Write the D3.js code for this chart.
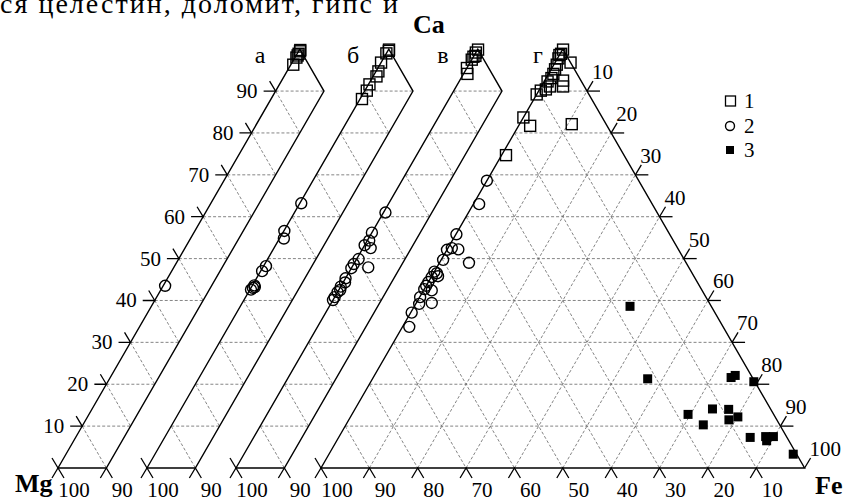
<!DOCTYPE html>
<html>
<head>
<meta charset="utf-8">
<script src="https://cdn.jsdelivr.net/npm/d3@7"></script>
<style>
  body { margin: 0; background: #fff; }
  svg { display: block; }
  text { font-family: "Liberation Serif", "Times New Roman", serif; fill: #000; }
</style>
</head>
<body>
<div id="chart"></div>
<script>
// points are [Ca, Fe] in %, Mg = 100 - Ca - Fe
var panels = ["а", "б", "в", "г"];

var squaresA = [[96.3, 0.5], [98.0, 0.3], [98.5, 0.3], [98.9, 0.3], [99.5, 0.3], [99.8, 0.2]];
var squaresB = [[99.9, 0.1], [99.6, 0.2], [99.0, 0], [96.8, 0], [94.7, 0.5], [93.5, 0.7], [91.6, 0.2], [90.1, 0.4], [88.1, 0.4]];
var squaresV = [[99.9, 0.1], [99.2, 0], [98.4, 0.3], [98.2, 0], [97.5, 0], [95.5, 0], [94.1, 0.8]];
var squaresG = [[99.9, 0.1], [98.6, 0], [98.9, 0.2], [96.8, 3.2], [97.8, 0.2], [96.3, 0.6], [95.2, 0.8], [94.1, 1.0],
                [93.1, 1.1], [92.3, 0.7], [92.5, 3.8], [91.1, 4.5], [91.1, 1.8], [90.4, 1.3], [90.1, 0.4], [89.2, 0],
                [83.7, 0], [81.7, 2.4], [82.1, 10.8], [74.7, 0.9]];

var circlesA = [[43.5, 0.4]];
var circlesB = [[63.2, 0.3], [56.6, 0.1], [54.8, 0.9], [48.2, 0.5], [47.0, 0.3], [43.6, 0.4], [43.0, 0.4], [42.6, 0.2], [43.2, 0.7]];
var circlesV = [[61.0, 0.4], [56.2, 0], [54.3, 0.4], [53.2, 0], [52.5, 1.6], [49.9, 0.4], [48.7, 0], [47.9, 3.4],
                [47.7, 0], [45.3, 0], [44.3, 0.4], [43.3, 0], [42.5, 0.3], [42.0, 0], [40.8, 0], [40.1, 0]];
var circlesG = [[68.6, 0], [63.0, 1.2], [55.8, 0.1], [52.2, 2.3], [52.1, 0], [52.5, 0.8], [49.0, 6.1], [49.7, 0.4],
                [46.9, 0], [46.5, 0.7], [45.6, 0.1], [45.8, 1.3], [44.4, 0], [43.5, 0], [42.7, 0], [42.4, 1.7],
                [40.8, 0.1], [39.4, 3.2], [39.2, 0.7], [37.1, 0.2], [33.7, 1.4]];

var solidG = [[38.6, 44.6], [21.3, 56.9], [21.6, 74.0], [22.1, 74.6], [20.6, 79.2], [12.8, 69.5], [14.1, 73.9],
              [10.3, 73.9], [14.0, 77.3], [11.5, 78.6], [12.2, 80.1], [7.3, 85.1], [7.5, 88.2], [7.5, 89.8],
              [6.5, 88.9], [3.3, 96.0]];

var leftTicks = [10, 20, 30, 40, 50, 60, 70, 80, 90];
var stripBottomTicks = [100, 90];
var mainBottomTicks = [100, 90, 80, 70, 60, 50, 40, 30, 20, 10];
var rightTicks = [10, 20, 30, 40, 50, 60, 70, 80, 90, 100];
var legendLabels = ["1", "2", "3"];
var headerText = "ся целестин, доломит, гипс и";

function init() {
    var w = 845, h = 502;
    var L = 483.6;
    var base = 468;
    var stripX = [58, 147, 236, 321];
    var letterPos = [[260, 63], [353, 63], [443, 63], [538, 63]];

    var svg = d3.select("#chart").append("svg")
        .attr("width", w)
        .attr("height", h);

    // along-base scale and Ca height scale
    var xs = d3.scaleLinear().domain([0, 100]).range([0, L]);
    var ys = d3.scaleLinear().domain([0, 100]).range([base, base - L * Math.sqrt(3) / 2]);

    function pt(x0, ca, fe) {
        return [x0 + xs(fe + ca / 2), ys(ca)];
    }

    var line = d3.line();

    var sqSets = [squaresA, squaresB, squaresV, squaresG];
    var ciSets = [circlesA, circlesB, circlesV, circlesG];

    panels.forEach(function (name, i) {
        var x0 = stripX[i];
        var full = (i === 3);
        var g = svg.append("g");

        // grid
        var segs = [];
        for (var k = 10; k <= 90; k += 10) {
            if (full) {
                segs.push([pt(x0, k, 0), pt(x0, k, 100 - k)]);       // Ca
                segs.push([pt(x0, 0, k), pt(x0, 100 - k, k)]);       // Fe
                segs.push([pt(x0, 100 - k, 0), pt(x0, 0, 100 - k)]); // Mg
            } else {
                segs.push([pt(x0, k, 0), pt(x0, k, Math.min(10, 100 - k))]);
                segs.push([pt(x0, 100 - k, 0), pt(x0, 90 - k, 10)]);
            }
        }
        g.selectAll("path.grid")
            .data(segs)
            .enter()
            .append("path")
            .attr("class", "grid")
            .attr("d", line)
            .attr("fill", "none")
            .attr("stroke", "#666")
            .attr("stroke-width", 0.8)
            .attr("stroke-dasharray", "3,2");

        // outline
        var outline = full
            ? [pt(x0, 0, 0), pt(x0, 100, 0), pt(x0, 0, 100)]
            : [pt(x0, 0, 0), pt(x0, 100, 0), pt(x0, 90, 10), pt(x0, 0, 10)];
        g.append("path")
            .attr("d", line(outline) + "Z")
            .attr("fill", "none")
            .attr("stroke", "#000")
            .attr("stroke-width", 1.4);

        // bottom ticks (Mg %)
        var bt = full ? mainBottomTicks : stripBottomTicks;
        var tickPaths = [];
        bt.forEach(function (m) {
            var p = pt(x0, 0, 100 - m);
            tickPaths.push([[p[0] - 6, p[1] + 10], p, [p[0] + 6, p[1] + 10]]);
        });
        var v = pt(x0, 0, 0);
        tickPaths.push([v, [v[0] - 6, v[1] - 10]]);
        if (i === 0) {
            leftTicks.forEach(function (c) {
                var p = pt(x0, c, 0);
                tickPaths.push([[p[0] - 12, p[1]], p, [p[0] - 6, p[1] - 10]]);
            });
        }
        if (full) {
            rightTicks.forEach(function (f) {
                var p = pt(x0, 100 - f, f);
                if (f < 100) tickPaths.push([[p[0] + 13, p[1]], p]);
                tickPaths.push([p, [p[0] + 6, p[1] - 10]]);
            });
        }
        g.selectAll("path.tick")
            .data(tickPaths)
            .enter()
            .append("path")
            .attr("class", "tick")
            .attr("d", line)
            .attr("fill", "none")
            .attr("stroke", "#000")
            .attr("stroke-width", 1.3);

        g.selectAll("text.bl")
            .data(bt)
            .enter()
            .append("text")
            .attr("class", "bl")
            .attr("x", function (m) { return pt(x0, 0, 100 - m)[0] + 16; })
            .attr("y", 497)
            .attr("text-anchor", "middle")
            .style("font-size", "21px")
            .text(function (m) { return m; });

        if (i === 0) {
            g.selectAll("text.ll")
                .data(leftTicks)
                .enter()
                .append("text")
                .attr("class", "ll")
                .attr("x", function (c) { return pt(x0, c, 0)[0] - 18; })
                .attr("y", function (c) { return pt(x0, c, 0)[1] + 7; })
                .attr("text-anchor", "end")
                .style("font-size", "21px")
                .text(function (c) { return c; });
        }
        if (full) {
            g.selectAll("text.rl")
                .data(rightTicks)
                .enter()
                .append("text")
                .attr("class", "rl")
                .attr("x", function (f) { return pt(x0, 100 - f, f)[0] + 5; })
                .attr("y", function (f) { return pt(x0, 100 - f, f)[1] - 12; })
                .style("font-size", "21px")
                .text(function (f) { return f; });
        }

        // panel letter
        g.append("text")
            .attr("x", letterPos[i][0])
            .attr("y", letterPos[i][1])
            .attr("text-anchor", "middle")
            .style("font-size", "24px")
            .text(name);

        // data: circles
        g.selectAll("circle.pt")
            .data(ciSets[i])
            .enter()
            .append("circle")
            .attr("class", "pt")
            .attr("cx", function (d) { return pt(x0, d[0], d[1])[0]; })
            .attr("cy", function (d) { return pt(x0, d[0], d[1])[1]; })
            .attr("r", 5.5)
            .attr("fill", "none")
            .attr("stroke", "#000")
            .attr("stroke-width", 1.4);

        // data: open squares
        g.selectAll("rect.sq")
            .data(sqSets[i])
            .enter()
            .append("rect")
            .attr("class", "sq")
            .attr("x", function (d) { return pt(x0, d[0], d[1])[0] - 5.5; })
            .attr("y", function (d) { return pt(x0, d[0], d[1])[1] - 5.5; })
            .attr("width", 11)
            .attr("height", 11)
            .attr("fill", "none")
            .attr("stroke", "#000")
            .attr("stroke-width", 1.4);

        if (full) {
            g.selectAll("rect.solid")
                .data(solidG)
                .enter()
                .append("rect")
                .attr("class", "solid")
                .attr("x", function (d) { return pt(x0, d[0], d[1])[0] - 4.5; })
                .attr("y", function (d) { return pt(x0, d[0], d[1])[1] - 4.5; })
                .attr("width", 9)
                .attr("height", 9)
                .attr("fill", "#000");
        }
    });

    // vertex names
    svg.append("text").attr("x", 413).attr("y", 33)
        .style("font-size", "26px").style("font-weight", "bold").text("Ca");
    svg.append("text").attr("x", 15).attr("y", 492)
        .style("font-size", "26px").style("font-weight", "bold").text("Mg");
    svg.append("text").attr("x", 815).attr("y", 494)
        .style("font-size", "26px").style("font-weight", "bold").text("Fe");

    // header line of page text (cut off at top, as in the source page)
    svg.append("text")
        .attr("x", 0)
        .attr("y", 12.7)
        .attr("textLength", 398)
        .attr("lengthAdjust", "spacing")
        .style("font-size", "28px")
        .text(headerText);

    // legend
    var leg = svg.append("g");
    var ly = [101, 126, 150];
    leg.append("rect").attr("x", 725.5).attr("y", ly[0] - 5).attr("width", 10).attr("height", 10)
        .attr("fill", "none").attr("stroke", "#000").attr("stroke-width", 1.3);
    leg.append("circle").attr("cx", 730).attr("cy", ly[1]).attr("r", 4.5)
        .attr("fill", "none").attr("stroke", "#000").attr("stroke-width", 1.4);
    leg.append("rect").attr("x", 726).attr("y", ly[2] - 4).attr("width", 8).attr("height", 8)
        .attr("fill", "#000");
    leg.selectAll("text")
        .data(legendLabels)
        .enter()
        .append("text")
        .attr("x", 744)
        .attr("y", function (d, i) { return ly[i] + 7; })
        .style("font-size", "21px")
        .text(function (d) { return d; });
}

window.onload = init;
</script>
</body>
</html>
